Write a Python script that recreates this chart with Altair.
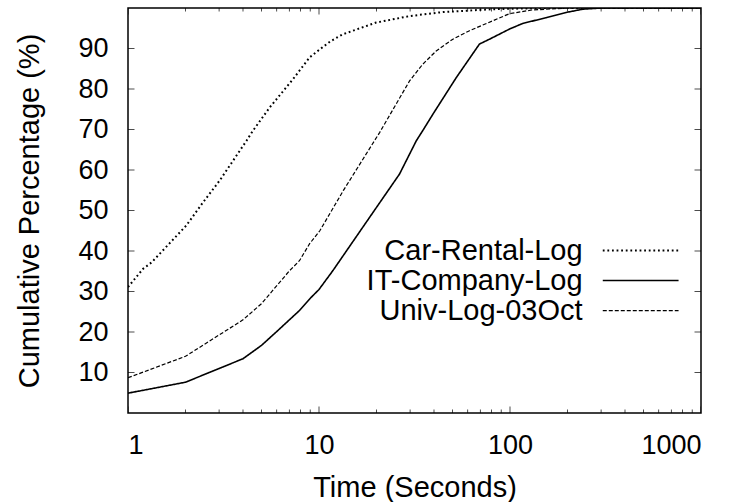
import altair as alt
import pandas as pd

# ---- data ----
series_names = ["Car-Rental-Log", "IT-Company-Log", "Univ-Log-03Oct"]

car_t = [1, 1.2, 1.33, 2.02, 2.47, 3.02, 4.17, 4.51, 5.51, 7.3, 8.93, 10.1, 11.5, 13.3, 19.9, 29.8, 44.5, 81, 150, 250, 1000]
car_v = [31.1, 35.6, 37.2, 46.3, 52.0, 57.4, 67.2, 69.7, 75.4, 82.4, 87.8, 89.8, 91.8, 93.5, 96.4, 98.0, 99.0, 99.7, 100, 100, 100]

it_t = [1, 2, 4, 5, 6.1, 7.9, 9.12, 10, 11.8, 18.4, 26.4, 32.3, 34.9, 39.5, 52.3, 69.2, 78.1, 99.4, 116.7, 154.7, 196.8, 240, 300, 1000]
it_v = [4.9, 7.6, 13.4, 16.7, 20.4, 25.3, 28.6, 30.5, 35.1, 48.3, 59.0, 67.2, 69.7, 73.8, 82.8, 91.1, 92.3, 94.8, 96.2, 97.6, 98.9, 99.7, 100, 100]

univ_t = [1, 2, 4, 5, 7.0, 7.9, 8.93, 10.1, 13.4, 19.5, 20.8, 29.8, 34.9, 41.1, 50.2, 61.4, 99.4, 130, 200, 1000]
univ_v = [8.7, 14.0, 23.0, 27.0, 35.1, 37.6, 41.8, 45.0, 54.9, 67.2, 69.3, 82.0, 86.1, 89.4, 92.3, 94.4, 98.6, 99.5, 100, 100]

x_major = [1, 10, 100, 1000]
x_minor = [2, 3, 4, 5, 6, 7, 8, 9, 20, 30, 40, 50, 60, 70, 80, 90, 200, 300, 400, 500, 600, 700, 800, 900]
y_ticks = [10, 20, 30, 40, 50, 60, 70, 80, 90]

# legend placement (in data units)
legend_text_t = 240
legend_line_t = [306, 763]
legend_rows_v = [40.1, 32.7, 25.3]

FONT = "Liberation Sans"
FS_LABEL = 27
FS_TEXT = 29

# ---- tables ----
rows = []
for name, ts, vs in [(series_names[0], car_t, car_v), (series_names[1], it_t, it_v), (series_names[2], univ_t, univ_v)]:
    for i, (t, v) in enumerate(zip(ts, vs)):
        rows.append({"series": name, "t": t, "v": v, "order": i})
df = pd.DataFrame(rows)

leg = pd.DataFrame({
    "series": series_names,
    "tt": [legend_text_t] * 3,
    "t1": [legend_line_t[0]] * 3,
    "t2": [legend_line_t[1]] * 3,
    "v": legend_rows_v,
})

xmaj = pd.DataFrame([{"t": t, "v": e} for t in x_major for e in (0, 100)])
xmin = pd.DataFrame([{"t": t, "v": e} for t in x_minor for e in (0, 100)])
yt = pd.DataFrame([{"t": e, "v": v} for v in y_ticks for e in (1, 1000)])

xscale = alt.Scale(type="log", domain=[1, 1000], nice=False)
yscale = alt.Scale(domain=[0, 100], nice=False, zero=False)

dash_scale = alt.Scale(domain=series_names, range=[[1.8, 2.8], [1, 0], [4, 2]])
width_scale = alt.Scale(domain=series_names, range=[2.0, 1.2, 0.9])

x_enc = alt.X("t:Q", scale=xscale,
              axis=alt.Axis(values=x_major, format=".0f", title="Time (Seconds)",
                            grid=False, domain=False, ticks=False, tickSize=0,
                            labelFont=FONT, labelFontSize=FS_LABEL, labelColor="black",
                            labelPadding=19, titleFont=FONT, titleFontSize=FS_TEXT,
                            titleFontWeight="normal", titleColor="black", titlePadding=15))
y_enc = alt.Y("v:Q", scale=yscale,
              axis=alt.Axis(values=y_ticks, title="Cumulative Percentage (%)",
                            grid=False, domain=False, ticks=False, tickSize=0,
                            labelFont=FONT, labelFontSize=FS_LABEL, labelColor="black",
                            labelPadding=20, titleFont=FONT, titleFontSize=FS_TEXT,
                            titleFontWeight="normal", titleColor="black", titlePadding=33))

lines = alt.Chart(df).mark_line(color="black", clip=True, strokeCap="butt").encode(
    x=x_enc, y=y_enc,
    detail="series:N",
    order="order:Q",
    strokeDash=alt.StrokeDash("series:N", scale=dash_scale, legend=None),
    strokeWidth=alt.StrokeWidth("series:N", scale=width_scale, legend=None),
)

leg_text = alt.Chart(leg).mark_text(align="right", baseline="middle", font=FONT,
                                    fontSize=FS_TEXT, color="black").encode(
    x=alt.X("tt:Q", scale=xscale), y=alt.Y("v:Q", scale=yscale), text="series:N")

leg_lines = alt.Chart(leg).mark_rule(color="black", strokeCap="butt").encode(
    x=alt.X("t1:Q", scale=xscale), x2="t2:Q", y=alt.Y("v:Q", scale=yscale),
    strokeDash=alt.StrokeDash("series:N", scale=dash_scale, legend=None),
    strokeWidth=alt.StrokeWidth("series:N", scale=width_scale, legend=None),
)

tick_maj = alt.Chart(xmaj).mark_tick(orient="vertical", size=13, thickness=1,
                                     color="black", clip=True).encode(
    x=alt.X("t:Q", scale=xscale), y=alt.Y("v:Q", scale=yscale))
tick_min = alt.Chart(xmin).mark_tick(orient="vertical", size=7, thickness=1,
                                     color="black", clip=True).encode(
    x=alt.X("t:Q", scale=xscale), y=alt.Y("v:Q", scale=yscale))
tick_y = alt.Chart(yt).mark_tick(orient="horizontal", size=13, thickness=1,
                                 color="black", clip=True).encode(
    x=alt.X("t:Q", scale=xscale), y=alt.Y("v:Q", scale=yscale))

chart = alt.layer(lines, tick_maj, tick_min, tick_y, leg_lines, leg_text).properties(
    width=573, height=405,
    autosize=alt.AutoSizeParams(type="none"),
    padding={"left": 128, "top": 8, "right": 40, "bottom": 89},
    background="white",
).configure_view(stroke="black", strokeWidth=1.5)

chart.save("out.html", embed_options={"renderer": "svg", "actions": False})
